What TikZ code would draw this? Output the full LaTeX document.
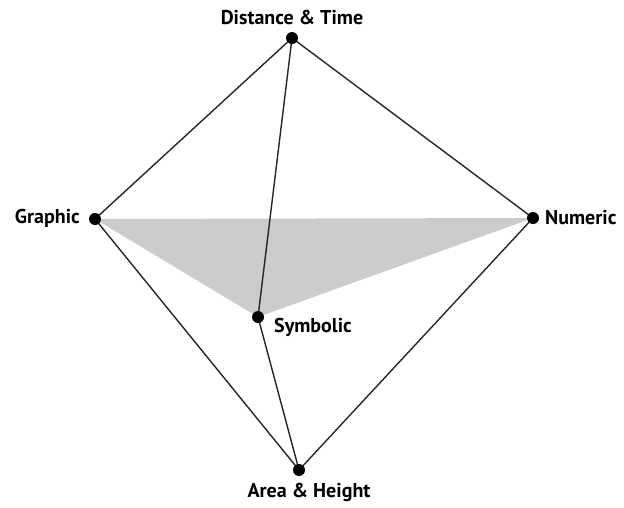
\documentclass[tikz,border=0pt]{standalone}
\usepackage{fontspec}
\setmainfont{PT Sans}
\begin{document}
\begin{tikzpicture}[x=1pt,y=-1pt,
  vdot/.style={circle,fill=black,inner sep=0pt,minimum size=12pt},
  edge/.style={line width=1.4pt,draw=black!85},
  lbl/.style={font=\bfseries\fontsize{20}{22}\selectfont,inner sep=0pt}]
\useasboundingbox (0,0) rectangle (624,507);
\coordinate (DT) at (292,38);
\coordinate (G) at (95,219);
\coordinate (N) at (533,218);
\coordinate (S) at (258,317);
\coordinate (AH) at (299,470);
\fill[black!20] (G) -- (N) -- (S) -- cycle;
\draw[edge] (DT) -- (G) (DT) -- (N) (DT) -- (S)
  (G) -- (AH) (N) -- (AH) (S) -- (AH);
\foreach \p in {DT,G,N,S,AH} \node[vdot] (d\p) at (\p) {};
\node[lbl,anchor=center] (tDT) at (292,17) {Distance \& Time};
\node[lbl,anchor=east] (tG) at (80,218) {Graphic};
\node[lbl,anchor=west] (tN) at (545,218) {Numeric};
\node[lbl,anchor=west] (tS) at (274,327) {Symbolic};
\node[lbl,anchor=center] (tAH) at (309,492) {Area \& Height};
\end{tikzpicture}
\end{document}
